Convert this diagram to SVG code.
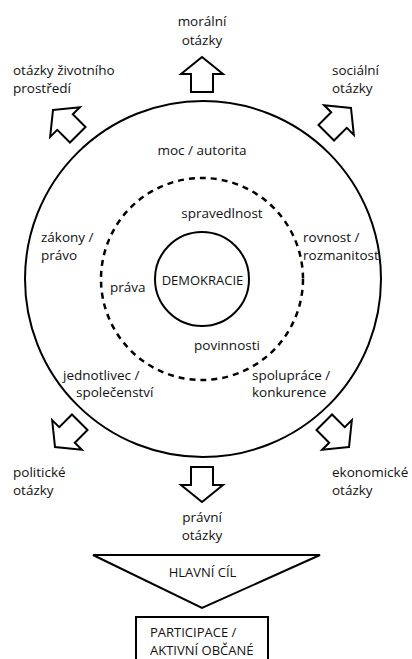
<svg xmlns="http://www.w3.org/2000/svg" width="412" height="659" viewBox="0 0 412 659">
<style>
text{font-family:"Open Sans","Noto Sans","Liberation Sans",sans-serif;font-size:13.5px;fill:#111}
.c{text-anchor:middle}
.caps{font-size:13px}
.ln{fill:none;stroke:#000;stroke-width:2}
.arr{fill:#fff;stroke:#000;stroke-width:2;stroke-linejoin:miter}
</style>
<defs>
<polygon id="blk" points="0,0 21,17 11,17 11,35 -11,35 -11,17 -21,17"/>
</defs>
<rect width="412" height="659" fill="#fff"/>
<g id="outer-circle"><circle class="ln" cx="203" cy="279" r="178"/></g>
<g id="middle-circle"><circle cx="202" cy="279" r="101" fill="none" stroke="#000" stroke-width="2.5" stroke-dasharray="6,5"/></g>
<g id="democracy"><circle class="ln" cx="202" cy="279" r="47"/><text class="c caps" x="202.5" y="285">DEMOKRACIE</text></g>
<g id="connectors">
<use href="#blk" class="arr" transform="translate(202,57)"/>
<use href="#blk" class="arr" transform="translate(202,502) rotate(180)"/>
<use href="#blk" class="arr" transform="translate(53,110) rotate(-45)"/>
<use href="#blk" class="arr" transform="translate(351,108) rotate(45)"/>
<use href="#blk" class="arr" transform="translate(55,447) rotate(-135)"/>
<use href="#blk" class="arr" transform="translate(349,447) rotate(135)"/>
</g>
<g id="moral"><text class="c" x="202" y="26">morální</text><text class="c" x="202" y="45">otázky</text></g>
<g id="environment"><text x="13" y="75">otázky životního</text><text x="13" y="93">prostředí</text></g>
<g id="social"><text x="332" y="75">sociální</text><text x="332" y="93">otázky</text></g>
<g id="political"><text x="13" y="477">politické</text><text x="13" y="495">otázky</text></g>
<g id="economic"><text x="332" y="477">ekonomické</text><text x="332" y="495">otázky</text></g>
<g id="legal"><text class="c" x="202" y="522">právní</text><text class="c" x="202" y="540">otázky</text></g>
<g id="power"><text class="c" x="202" y="155">moc / autorita</text></g>
<g id="justice"><text class="c" x="222" y="218">spravedlnost</text></g>
<g id="laws"><text x="41" y="242">zákony /</text><text x="41" y="260">právo</text></g>
<g id="equality"><text x="303" y="242">rovnost /</text><text x="303" y="260">rozmanitost</text></g>
<g id="rights"><text x="110" y="292">práva</text></g>
<g id="duties"><text class="c" x="227" y="350">povinnosti</text></g>
<g id="individual"><text x="63" y="380">jednotlivec /</text><text x="76" y="397">společenství</text></g>
<g id="cooperation"><text x="252" y="380">spolupráce /</text><text x="252" y="397">konkurence</text></g>
<g id="main-goal"><polygon class="arr" points="93,555 320,555 202,608"/><text class="c caps" x="202.5" y="577">HLAVNÍ CÍL</text></g>
<g id="participation"><rect class="arr" x="136" y="617" width="132" height="60"/><text class="caps" x="150" y="637">PARTICIPACE /</text><text class="caps" x="150" y="655">AKTIVNÍ OBČANÉ</text></g>
</svg>
